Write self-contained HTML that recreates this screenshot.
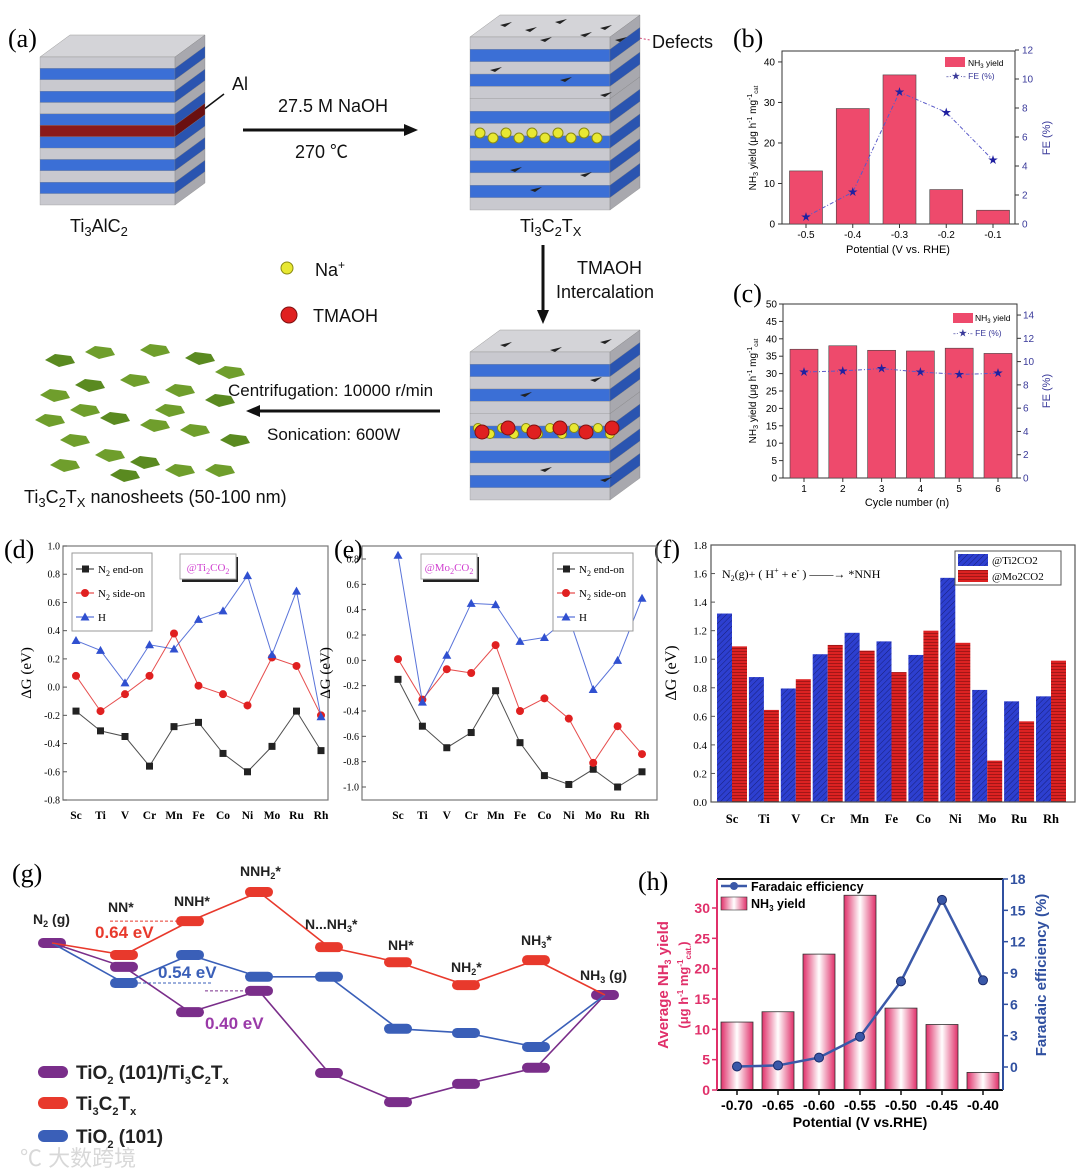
<!DOCTYPE html>
<html><head><meta charset="utf-8"><style>
html,body{margin:0;padding:0;background:#fff}
svg{display:block}
text{font-family:"Liberation Sans","Noto Sans CJK SC",sans-serif}
.serif{font-family:"Liberation Serif","Noto Serif CJK SC",serif}
</style></head><body>
<svg id="fig" width="1080" height="1174" viewBox="0 0 1080 1174" xmlns="http://www.w3.org/2000/svg">
<defs>
<pattern id="hatchBlue" width="4" height="4" patternUnits="userSpaceOnUse" patternTransform="rotate(45)"><rect width="4" height="4" fill="#2d3fd0"/><line x1="0" y1="0" x2="0" y2="4" stroke="#18207a" stroke-width="1"/></pattern>
<pattern id="hatchRed" width="4" height="3" patternUnits="userSpaceOnUse"><rect width="4" height="3" fill="#dc2222"/><line x1="0" y1="0" x2="4" y2="0" stroke="#6a0a0a" stroke-width="1"/></pattern>
<linearGradient id="pinkBar" x1="0" x2="1" y1="0" y2="0"><stop offset="0" stop-color="#e0306a"/><stop offset="0.5" stop-color="#fff"/><stop offset="1" stop-color="#e0306a"/></linearGradient>
</defs>
<!-- panel labels -->
<text class="serif" x="8" y="47" font-size="26">(a)</text>
<text class="serif" x="733" y="47" font-size="26">(b)</text>
<text class="serif" x="733" y="302" font-size="26">(c)</text>
<text class="serif" x="4" y="558" font-size="26">(d)</text>
<text class="serif" x="334" y="558" font-size="26">(e)</text>
<text class="serif" x="654" y="558" font-size="26">(f)</text>
<text class="serif" x="12" y="882" font-size="26">(g)</text>
<text class="serif" x="638" y="890" font-size="26">(h)</text>
<!-- schematic texts -->
<g font-size="18" fill="#111">
<text x="232" y="90">Al</text>
<line x1="203" y1="110" x2="224" y2="94" stroke="#111" stroke-width="1.5"/>
<text x="278" y="112">27.5 M NaOH</text>
<text x="295" y="158">270 ℃</text>
<line x1="243" y1="130" x2="408" y2="130" stroke="#111" stroke-width="3"/>
<polygon points="418,130 404,124 404,136" fill="#111"/>
<text x="70" y="232">Ti<tspan font-size="13" dy="4">3</tspan><tspan dy="-4">AlC</tspan><tspan font-size="13" dy="4">2</tspan></text>
<text x="652" y="48">Defects</text>
<ellipse cx="596" cy="40" rx="32" ry="20" fill="none" stroke="#d04070" stroke-width="1.3"/>
<line x1="628" y1="36" x2="650" y2="40" stroke="#d04070" stroke-dasharray="2,2"/>
<text x="520" y="232">Ti<tspan font-size="13" dy="4">3</tspan><tspan dy="-4">C</tspan><tspan font-size="13" dy="4">2</tspan><tspan dy="-4">T</tspan><tspan font-size="13" dy="4">X</tspan></text>
<circle cx="287" cy="268" r="6" fill="#e8e832" stroke="#8a8a10"/>
<text x="315" y="276">Na<tspan font-size="12" dy="-7">+</tspan></text>
<circle cx="289" cy="315" r="8" fill="#e02020" stroke="#801010"/>
<text x="313" y="322">TMAOH</text>
<line x1="543" y1="245" x2="543" y2="312" stroke="#111" stroke-width="3"/>
<polygon points="543,324 537,310 549,310" fill="#111"/>
<text x="577" y="274">TMAOH</text>
<text x="556" y="298">Intercalation</text>
<line x1="258" y1="411" x2="440" y2="411" stroke="#111" stroke-width="3"/>
<polygon points="246,411 260,405 260,417" fill="#111"/>
<text x="228" y="396" font-size="17">Centrifugation: 10000 r/min</text>
<text x="267" y="440" font-size="17">Sonication:  600W</text>
<text x="24" y="503">Ti<tspan font-size="13" dy="4">3</tspan><tspan dy="-4">C</tspan><tspan font-size="13" dy="4">2</tspan><tspan dy="-4">T</tspan><tspan font-size="13" dy="4">X</tspan><tspan dy="-4"> nanosheets (50-100 nm)</tspan></text>
</g>
<text x="20" y="1166" font-size="22" fill="#d8d8d8">℃ 大数跨境</text>
</svg>
<script>
// ===== chart data =====
const bCats=['-0.5','-0.4','-0.3','-0.2','-0.1'];
const bYield=[13.1,28.5,36.8,8.5,3.4];
const bFE=[0.5,2.2,9.1,7.7,4.4];
const bYTicks=[0,10,20,30,40];
const bFETicks=[0,2,4,6,8,10,12];
const cCats=['1','2','3','4','5','6'];
const cYield=[37.0,38.0,36.7,36.5,37.3,35.8];
const cFE=[9.1,9.2,9.4,9.1,8.9,9.0];
const cYTicks=[0,5,10,15,20,25,30,35,40,45,50];
const cFETicks=[0,2,4,6,8,10,12,14];
const metals=['Sc','Ti','V','Cr','Mn','Fe','Co','Ni','Mo','Ru','Rh'];
const dEnd=[-0.17,-0.31,-0.35,-0.56,-0.28,-0.25,-0.47,-0.60,-0.42,-0.17,-0.45];
const dSide=[0.08,-0.17,-0.05,0.08,0.38,0.01,-0.05,-0.13,0.21,0.15,-0.20];
const dH=[0.33,0.26,0.03,0.30,0.27,0.48,0.54,0.79,0.23,0.68,-0.21];
const dTicks=['-0.8','-0.6','-0.4','-0.2','0.0','0.2','0.4','0.6','0.8','1.0'];
const eEnd=[-0.15,-0.52,-0.69,-0.57,-0.24,-0.65,-0.91,-0.98,-0.86,-1.00,-0.88];
const eSide=[0.01,-0.31,-0.07,-0.10,0.12,-0.40,-0.30,-0.46,-0.81,-0.52,-0.74];
const eH=[0.83,-0.33,0.04,0.45,0.44,0.15,0.18,0.34,-0.23,0.00,0.49];
const eTicks=['-1.0','-0.8','-0.6','-0.4','-0.2','0.0','0.2','0.4','0.6','0.8'];
const fTi=[1.32,0.875,0.795,1.035,1.185,1.125,1.03,1.57,0.785,0.705,0.74];
const fMo=[1.09,0.645,0.86,1.10,1.06,0.91,1.20,1.115,0.29,0.565,0.99];
const fTicks=['0.0','0.2','0.4','0.6','0.8','1.0','1.2','1.4','1.6','1.8'];
const gSteps=['N2(g)','NN*','NNH*','NNH2*','N...NH3*','NH*','NH2*','NH3*','NH3(g)'];
const gRed=[0,-0.23,0.42,0.98,-0.08,-0.37,-0.81,-0.33,-1.0];
const gBlue=[0,-0.77,-0.23,-0.65,-0.65,-1.65,-1.73,-2.0,-1.0];
const gPurple=[0,-0.46,-1.33,-0.92,-2.5,-3.06,-2.71,-2.40,-1.0];
const hCats=['-0.70','-0.65','-0.60','-0.55','-0.50','-0.45','-0.40'];
const hYield=[11.2,12.9,22.4,32.1,13.5,10.8,2.9];
const hFE=[0.05,0.15,0.9,2.9,8.2,16.0,8.3];
const hYTicks=[0,5,10,15,20,25,30];
const hFETicks=[0,3,6,9,12,15,18];

const NS='http://www.w3.org/2000/svg';
const svg=document.getElementById('fig');
function mk(tag,attrs,name){
  const el=document.createElementNS(NS,tag);
  for(const k in attrs) el.setAttribute(k,attrs[k]);
  
  
  svg.appendChild(el);
  return el;
}
function txt(x,y,html,attrs,name){
  const el=mk('text',Object.assign({x:x,y:y},attrs),name);
  el.innerHTML=html;
  return el;
}
function lin(d0,d1,r0,r1){return v=>r0+(v-d0)/(d1-d0)*(r1-r0);}
function star(x,y,name){return txt(x,y+3.5,'★',{'font-size':10,fill:'#2020a0','text-anchor':'middle'},name);}

// ===== schematic =====
function stack(x,y,w,h,colors){
  const dx=30,dy=22,n=colors.length,t=(h-dy)/n;
  mk('polygon',{points:`${x},${y+dy} ${x+dx},${y} ${x+w+dx},${y} ${x+w},${y+dy}`,fill:'#d4d4d8',stroke:'#999','stroke-width':0.5},'stack-top-face');
  for(let i=0;i<n;i++){
    const ty=y+dy+i*t;const c=colors[i];
    const side=c==='#c9c9cf'?'#a8a8ae':(c==='#3b6fd6'?'#2a54b0':'#6a1010');
    mk('rect',{x:x,y:ty,width:w,height:t,fill:c,stroke:'#888','stroke-width':0.3},'stack-layer-front');
    mk('polygon',{points:`${x+w},${ty} ${x+w+dx},${ty-dy} ${x+w+dx},${ty-dy+t} ${x+w},${ty+t}`,fill:side,stroke:'#777','stroke-width':0.3},'stack-layer-side');
  }
}
const G='#c9c9cf',B='#3b6fd6',R='#8b1a1a';
stack(40,35,135,170,[G,B,G,B,G,B,R,B,G,B,G,B,G]);
stack(470,15,140,195,[G,B,G,B,G,G,B,G,B,G,B,G,B,G]);
stack(470,330,140,170,[G,B,G,B,G,G,B,G,B,G,B,G]);
// defect flakes
const flakes=[[500,25],[525,30],[555,22],[580,35],[600,28],[540,40],[615,40],[490,70],[560,80],[600,95],[510,170],[580,175],[530,190],[500,345],[550,350],[600,342],[520,395],[590,380],[540,470],[600,480]];
flakes.forEach(p=>{mk('polygon',{points:`${p[0]},${p[1]} ${p[0]+12},${p[1]-3} ${p[0]+5},${p[1]+2}`,fill:'#222'},'defect-flake');});
for(let i=0;i<10;i++){mk('circle',{cx:480+i*13,cy:133+(i%2)*5,r:5,fill:'#e8e832',stroke:'#8a8a10'},'na-ion');}
for(let i=0;i<12;i++){mk('circle',{cx:478+i*12,cy:428+(i%2)*6,r:4.5,fill:'#e8e832',stroke:'#8a8a10'},'na-ion');}
for(let i=0;i<6;i++){mk('circle',{cx:482+i*26,cy:432-(i%2)*4,r:7,fill:'#e02020',stroke:'#801010'},'tmaoh-ion');}
const sheets=[[45,360],[85,352],[140,350],[185,358],[215,372],[40,395],[75,385],[120,380],[165,390],[205,400],[35,420],[60,440],[100,418],[140,425],[180,430],[220,440],[50,465],[95,455],[130,462],[165,470],[205,470],[110,475],[70,410],[155,410]];
sheets.forEach((p,i)=>{mk('polygon',{points:`${p[0]},${p[1]} ${p[0]+10},${p[1]-6} ${p[0]+26},${p[1]-4} ${p[0]+30},${p[1]+3} ${p[0]+14},${p[1]+7}`,fill:i%3?'#6f9e2c':'#5a8a20'},'nanosheet');});

// ===== panel b =====
{const x=i=>806+i*46.75,y=lin(0,42.7,224,51),yr=lin(0,12,224,50);
 mk('rect',{x:782,y:51,width:233,height:173,fill:'none',stroke:'#333'},'b-plot-frame');
 bYield.forEach((v,i)=>{mk('rect',{x:x(i)-16.5,y:y(v),width:33,height:224-y(v),fill:'#ee4a6c',stroke:'#444','stroke-width':0.6},'b-yield-bar');});
 mk('polyline',{points:bFE.map((v,i)=>`${x(i)},${yr(v)}`).join(' '),fill:'none',stroke:'#5a5ac8','stroke-dasharray':'4,2,1,2'},'b-fe-line');
 bFE.forEach((v,i)=>{star(x(i),yr(v),'b-fe-marker');});
 bYTicks.forEach(v=>{mk('line',{x1:778,y1:y(v),x2:782,y2:y(v),stroke:'#333'},'b-left-tick');txt(775,y(v)+3.5,v,{'font-size':10,'text-anchor':'end'},'b-left-tick-label');});
 bFETicks.forEach(v=>{mk('line',{x1:1015,y1:yr(v),x2:1019,y2:yr(v),stroke:'#333'},'b-right-tick');txt(1022,yr(v)+3.5,v,{'font-size':10,fill:'#3a3a9a'},'b-right-tick-label');});
 bCats.forEach((c,i)=>{mk('line',{x1:x(i),y1:224,x2:x(i),y2:228,stroke:'#333'},'b-x-tick');txt(x(i),238,c,{'font-size':10,'text-anchor':'middle'},'b-x-tick-label');});
 txt(898,253,'Potential (V vs. RHE)',{'font-size':11,'text-anchor':'middle'},'b-x-axis-title');
 txt(0,0,'NH<tspan font-size="7" dy="2">3</tspan><tspan dy="-2"> yield (μg h</tspan><tspan font-size="7" dy="-4">-1</tspan><tspan dy="4"> mg</tspan><tspan font-size="7" dy="-4">-1</tspan><tspan font-size="6" dy="6">cat</tspan>',{'font-size':10,'text-anchor':'middle',transform:'translate(756,138) rotate(-90)'},'b-left-axis-title');
 txt(0,0,'FE (%)',{'font-size':11,fill:'#3a3a9a','text-anchor':'middle',transform:'translate(1050,138) rotate(-90)'},'b-right-axis-title');
 mk('rect',{x:945,y:57,width:20,height:10,fill:'#ee4a6c'},'b-legend-yield-swatch');
 txt(968,66,'NH<tspan font-size="6" dy="2">3</tspan><tspan dy="-2"> yield</tspan>',{'font-size':8.5},'b-legend-yield-label');
 txt(946,79,'-·★·- FE (%)',{'font-size':8.5,fill:'#3a3a9a'},'b-legend-fe-label');}

// ===== panel c =====
{const x=i=>804+i*38.8,y=lin(0,50,478,304),yr=lin(0,15,478,303.4);
 mk('rect',{x:783,y:304,width:234,height:174,fill:'none',stroke:'#333'},'c-plot-frame');
 cYield.forEach((v,i)=>{mk('rect',{x:x(i)-14,y:y(v),width:28,height:478-y(v),fill:'#ee4a6c',stroke:'#444','stroke-width':0.6},'c-yield-bar');});
 mk('polyline',{points:cFE.map((v,i)=>`${x(i)},${yr(v)}`).join(' '),fill:'none',stroke:'#5a5ac8','stroke-dasharray':'4,2,1,2'},'c-fe-line');
 cFE.forEach((v,i)=>{star(x(i),yr(v),'c-fe-marker');});
 cYTicks.forEach(v=>{mk('line',{x1:779,y1:y(v),x2:783,y2:y(v),stroke:'#333'},'c-left-tick');txt(777,y(v)+3.5,v,{'font-size':10,'text-anchor':'end'},'c-left-tick-label');});
 cFETicks.forEach(v=>{mk('line',{x1:1017,y1:yr(v),x2:1021,y2:yr(v),stroke:'#333'},'c-right-tick');txt(1023,yr(v)+3.5,v,{'font-size':10,fill:'#3a3a9a'},'c-right-tick-label');});
 cCats.forEach((c,i)=>{mk('line',{x1:x(i),y1:478,x2:x(i),y2:482,stroke:'#333'},'c-x-tick');txt(x(i),492,c,{'font-size':10,'text-anchor':'middle'},'c-x-tick-label');});
 txt(907,506,'Cycle number (n)',{'font-size':11,'text-anchor':'middle'},'c-x-axis-title');
 txt(0,0,'NH<tspan font-size="7" dy="2">3</tspan><tspan dy="-2"> yield (μg h</tspan><tspan font-size="7" dy="-4">-1</tspan><tspan dy="4"> mg</tspan><tspan font-size="7" dy="-4">-1</tspan><tspan font-size="6" dy="6">cat</tspan>',{'font-size':10,'text-anchor':'middle',transform:'translate(756,391) rotate(-90)'},'c-left-axis-title');
 txt(0,0,'FE (%)',{'font-size':11,fill:'#3a3a9a','text-anchor':'middle',transform:'translate(1050,391) rotate(-90)'},'c-right-axis-title');
 mk('rect',{x:953,y:313,width:20,height:10,fill:'#ee4a6c'},'c-legend-yield-swatch');
 txt(975,321,'NH<tspan font-size="6" dy="2">3</tspan><tspan dy="-2"> yield</tspan>',{'font-size':8.5},'c-legend-yield-label');
 txt(953,336,'-·★·- FE (%)',{'font-size':8.5,fill:'#3a3a9a'},'c-legend-fe-label');}

// ===== panels d / e =====
function dgPanel(p,L,R,T,Bt,ticks,tv0,ty0,tv1,ty1,x0,step,ends,sides,hs,legX,insX,insTxt){
  const y=lin(tv0,tv1,ty0,ty1),x=i=>x0+i*step;
  mk('rect',{x:L,y:T,width:R-L,height:Bt-T,fill:'none',stroke:'#777','stroke-width':1.2},p+'-plot-frame');
  ticks.forEach(t=>{const v=parseFloat(t);mk('line',{x1:L,y1:y(v),x2:L+4,y2:y(v),stroke:'#555'},p+'-y-tick');txt(L-3,y(v)+3.5,t,{'font-size':10,'text-anchor':'end',class:'serif'},p+'-y-tick-label');});
  metals.forEach((m,i)=>{txt(x(i),Bt+19,m,{'font-size':11.5,'font-weight':'bold','text-anchor':'middle',class:'serif'},p+'-x-tick-label');});
  const series=[[ends,'#222','sq'],[sides,'#e02020','ci'],[hs,'#3050d0','tr']];
  series.forEach(s=>{
    mk('polyline',{points:s[0].map((v,i)=>`${x(i)},${y(v)}`).join(' '),fill:'none',stroke:s[1],'stroke-width':1,opacity:0.8},p+'-series-line');
    s[0].forEach((v,i)=>{const cx=x(i),cy=y(v);
      if(s[2]==='sq'){mk('rect',{x:cx-3.5,y:cy-3.5,width:7,height:7,fill:s[1]},p+'-end-on-marker');}
      else if(s[2]==='ci'){mk('circle',{cx:cx,cy:cy,r:4,fill:s[1]},p+'-side-on-marker');}
      else {mk('polygon',{points:`${cx},${cy-4.5} ${cx+4.5},${cy+3.5} ${cx-4.5},${cy+3.5}`,fill:s[1]},p+'-h-marker');}
    });
  });
  txt(0,0,'ΔG (eV)',{'font-size':15,'text-anchor':'middle',class:'serif',transform:`translate(${L-32},${(T+Bt)/2}) rotate(-90)`},p+'-y-axis-title');
  mk('rect',{x:legX,y:T+7,width:80,height:78,fill:'#fff',stroke:'#999'},p+'-legend-box');
  const lab=['N<tspan font-size="8" dy="3">2</tspan><tspan dy="-3"> end-on</tspan>','N<tspan font-size="8" dy="3">2</tspan><tspan dy="-3"> side-on</tspan>','H'];
  series.forEach((s,k)=>{const ly=T+23+k*24;
    mk('line',{x1:legX+4,y1:ly,x2:legX+22,y2:ly,stroke:s[1]},p+'-legend-line');
    if(k===0)mk('rect',{x:legX+10,y:ly-3.5,width:7,height:7,fill:s[1]},p+'-legend-marker');
    else if(k===1)mk('circle',{cx:legX+13,cy:ly,r:4,fill:s[1]},p+'-legend-marker');
    else mk('polygon',{points:`${legX+13},${ly-4.5} ${legX+17.5},${ly+3.5} ${legX+8.5},${ly+3.5}`,fill:s[1]},p+'-legend-marker');
    txt(legX+26,ly+4,lab[k],{'font-size':11,class:'serif'},p+'-legend-label');});
  mk('rect',{x:insX+2,y:T+11,width:56,height:25,fill:'#222'},p+'-inset-shadow');
  mk('rect',{x:insX,y:T+8,width:56,height:25,fill:'#fff',stroke:'#aaa'},p+'-inset-box');
  txt(insX+28,T+25,insTxt,{'font-size':11,fill:'#d040d0','text-anchor':'middle',class:'serif'},p+'-inset-label');
}
dgPanel('d',63,328,546,800,dTicks,-0.8,800,1.0,546,76,24.5,dEnd,dSide,dH,72,180,'@Ti<tspan font-size="8" dy="3">2</tspan><tspan dy="-3">CO</tspan><tspan font-size="8" dy="3">2</tspan>');
dgPanel('e',362,657,546,800,eTicks,-1.0,787,0.8,559,398,24.4,eEnd,eSide,eH,553,421,'@Mo<tspan font-size="8" dy="3">2</tspan><tspan dy="-3">CO</tspan><tspan font-size="8" dy="3">2</tspan>');

// ===== panel f =====
{const y=lin(0,1.8,802,545),x=i=>732+i*31.9;
 fTi.forEach((v,i)=>{mk('rect',{x:x(i)-15,y:y(v),width:15,height:802-y(v),fill:'url(#hatchBlue)'},'f-ti2co2-bar');});
 fMo.forEach((v,i)=>{mk('rect',{x:x(i),y:y(v),width:15,height:802-y(v),fill:'url(#hatchRed)'},'f-mo2co2-bar');});
 mk('rect',{x:711,y:545,width:364,height:257,fill:'none',stroke:'#555','stroke-width':1.2},'f-plot-frame');
 fTicks.forEach(t=>{const v=parseFloat(t);mk('line',{x1:711,y1:y(v),x2:715,y2:y(v),stroke:'#555'},'f-y-tick');txt(707,y(v)+4,t,{'font-size':11,'text-anchor':'end',class:'serif'},'f-y-tick-label');});
 metals.forEach((m,i)=>{txt(x(i),823,m,{'font-size':12.5,'font-weight':'bold','text-anchor':'middle',class:'serif'},'f-x-tick-label');});
 txt(0,0,'ΔG (eV)',{'font-size':16,'text-anchor':'middle',class:'serif',transform:'translate(676,673) rotate(-90)'},'f-y-axis-title');
 txt(722,578,'N<tspan font-size="8" dy="3">2</tspan><tspan dy="-3">(g)+ ( H</tspan><tspan font-size="8" dy="-5">+</tspan><tspan dy="5"> + e</tspan><tspan font-size="8" dy="-5">-</tspan><tspan dy="5"> ) ——→ *NNH</tspan>',{'font-size':12,class:'serif'},'f-reaction-equation');
 mk('rect',{x:955,y:551,width:106,height:34,fill:'#fff',stroke:'#555'},'f-legend-box');
 mk('rect',{x:958,y:554,width:30,height:12,fill:'url(#hatchBlue)'},'f-legend-ti-swatch');
 mk('rect',{x:958,y:570,width:30,height:12,fill:'url(#hatchRed)'},'f-legend-mo-swatch');
 txt(992,564,'@Ti2CO2',{'font-size':11,class:'serif'},'f-legend-ti-label');
 txt(992,580,'@Mo2CO2',{'font-size':11,class:'serif'},'f-legend-mo-label');}

// ===== panel g =====
{const gx=[52,124,190,259,329,398,466,536,605],gy=e=>943-e*52;
 const cols={red:'#e8392c',blue:'#3a5fb8',purple:'#7a2e8a'};
 [[gPurple,cols.purple,'g-purple'],[gBlue,cols.blue,'g-blue'],[gRed,cols.red,'g-red']].forEach(s=>{
   mk('polyline',{points:s[0].map((v,i)=>`${gx[i]},${gy(v)}`).join(' '),fill:'none',stroke:s[1],'stroke-width':1.6},s[2]+'-path');
   s[0].forEach((v,i)=>{if((i===0||i===8)&&s[2]!=='g-purple')return;mk('rect',{x:gx[i]-14,y:gy(v)-5,width:28,height:10,rx:5,fill:i===0||i===8?cols.purple:s[1]},s[2]+'-level');});
 });
 mk('line',{x1:110,y1:gy(gRed[2]),x2:178,y2:gy(gRed[2]),stroke:cols.red,'stroke-dasharray':'3,2'},'g-red-gap-line');
 mk('line',{x1:138,y1:gy(gBlue[1]),x2:213,y2:gy(gBlue[1]),stroke:cols.blue,'stroke-dasharray':'3,2'},'g-blue-gap-line');
 mk('line',{x1:205,y1:gy(gPurple[3]),x2:272,y2:gy(gPurple[3]),stroke:cols.purple,'stroke-dasharray':'3,2'},'g-purple-gap-line');
 txt(95,938,'0.64 eV',{'font-size':17,'font-weight':'bold',fill:cols.red},'g-red-barrier-label');
 txt(158,978,'0.54 eV',{'font-size':17,'font-weight':'bold',fill:cols.blue},'g-blue-barrier-label');
 txt(205,1029,'0.40 eV',{'font-size':17,'font-weight':'bold',fill:'#9a3aa8'},'g-purple-barrier-label');
 const lbl=[[33,924,'N<tspan font-size="9" dy="3">2</tspan><tspan dy="-3"> (g)</tspan>'],[108,912,'NN*'],[174,906,'NNH*'],[240,876,'NNH<tspan font-size="9" dy="3">2</tspan><tspan dy="-3">*</tspan>'],[305,929,'N...NH<tspan font-size="9" dy="3">3</tspan><tspan dy="-3">*</tspan>'],[388,950,'NH*'],[451,972,'NH<tspan font-size="9" dy="3">2</tspan><tspan dy="-3">*</tspan>'],[521,945,'NH<tspan font-size="9" dy="3">3</tspan><tspan dy="-3">*</tspan>'],[580,980,'NH<tspan font-size="9" dy="3">3</tspan><tspan dy="-3"> (g)</tspan>']];
 lbl.forEach(l=>{txt(l[0],l[1],l[2],{'font-size':14,'font-weight':'bold',fill:'#222'},'g-step-label');});
 const leg=[[1072,cols.purple,'TiO<tspan font-size="11" dy="5">2</tspan><tspan dy="-5"> (101)/Ti</tspan><tspan font-size="11" dy="5">3</tspan><tspan dy="-5">C</tspan><tspan font-size="11" dy="5">2</tspan><tspan dy="-5">T</tspan><tspan font-size="11" dy="5">x</tspan>'],[1103,cols.red,'Ti<tspan font-size="11" dy="5">3</tspan><tspan dy="-5">C</tspan><tspan font-size="11" dy="5">2</tspan><tspan dy="-5">T</tspan><tspan font-size="11" dy="5">x</tspan>'],[1136,cols.blue,'TiO<tspan font-size="11" dy="5">2</tspan><tspan dy="-5"> (101)</tspan>']];
 leg.forEach(l=>{mk('rect',{x:38,y:l[0]-6,width:30,height:12,rx:6,fill:l[1]},'g-legend-swatch');txt(76,l[0]+7,l[2],{'font-size':19,'font-weight':'bold',fill:'#222'},'g-legend-label');});}

// ===== panel h =====
{const x=i=>737+i*41,y=lin(0,30,1090,908),yr=lin(0,18,1067,879);
 hYield.forEach((v,i)=>{mk('rect',{x:x(i)-16,y:y(v),width:32,height:1090-y(v),fill:'url(#pinkBar)',stroke:'#333','stroke-width':0.8},'h-yield-bar');});
 mk('line',{x1:717,y1:879,x2:1003,y2:879,stroke:'#111','stroke-width':2},'h-top-axis');
 mk('line',{x1:717,y1:1090,x2:1003,y2:1090,stroke:'#111','stroke-width':2},'h-x-axis');
 mk('line',{x1:717,y1:879,x2:717,y2:1090,stroke:'#e0306a','stroke-width':2},'h-left-axis');
 mk('line',{x1:1003,y1:879,x2:1003,y2:1090,stroke:'#3050a0','stroke-width':2},'h-right-axis');
 mk('polyline',{points:hFE.map((v,i)=>`${x(i)},${yr(v)}`).join(' '),fill:'none',stroke:'#3a58a8','stroke-width':2.5},'h-fe-line');
 hFE.forEach((v,i)=>{mk('circle',{cx:x(i),cy:yr(v),r:4.5,fill:'#3a58a8',stroke:'#1a2a6a'},'h-fe-marker');});
 hYTicks.forEach(v=>{mk('line',{x1:712,y1:y(v),x2:717,y2:y(v),stroke:'#e0306a','stroke-width':1.5},'h-left-tick');txt(710,y(v)+5,v,{'font-size':14,'font-weight':'bold',fill:'#e0306a','text-anchor':'end'},'h-left-tick-label');});
 hFETicks.forEach(v=>{mk('line',{x1:1003,y1:yr(v),x2:1008,y2:yr(v),stroke:'#3050a0','stroke-width':1.5},'h-right-tick');txt(1010,yr(v)+5,v,{'font-size':14,'font-weight':'bold',fill:'#3050a0'},'h-right-tick-label');});
 hCats.forEach((c,i)=>{mk('line',{x1:x(i),y1:1090,x2:x(i),y2:1095,stroke:'#111','stroke-width':1.5},'h-x-tick');txt(x(i),1110,c,{'font-size':14,'font-weight':'bold','text-anchor':'middle'},'h-x-tick-label');});
 txt(860,1127,'Potential (V vs.RHE)',{'font-size':14,'font-weight':'bold','text-anchor':'middle'},'h-x-axis-title');
 txt(0,0,'Average NH<tspan font-size="9" dy="3">3</tspan><tspan dy="-3"> yield</tspan>',{'font-size':15,'font-weight':'bold',fill:'#e0306a','text-anchor':'middle',transform:'translate(668,985) rotate(-90)'},'h-left-axis-title');
 txt(0,0,'(μg h<tspan font-size="8" dy="-5">-1</tspan><tspan dy="5"> mg</tspan><tspan font-size="8" dy="-5">-1</tspan><tspan font-size="8" dy="8">cat.</tspan><tspan dy="-3">)</tspan>',{'font-size':13,'font-weight':'bold',fill:'#e0306a','text-anchor':'middle',transform:'translate(688,985) rotate(-90)'},'h-left-axis-subtitle');
 txt(0,0,'Faradaic efficiency (%)',{'font-size':15,'font-weight':'bold',fill:'#3050a0','text-anchor':'middle',transform:'translate(1046,975) rotate(-90)'},'h-right-axis-title');
 mk('line',{x1:721,y1:886,x2:747,y2:886,stroke:'#3a58a8','stroke-width':2.5},'h-legend-fe-line');
 mk('circle',{cx:734,cy:886,r:4,fill:'#3a58a8'},'h-legend-fe-marker');
 txt(751,891,'Faradaic efficiency',{'font-size':12.5,'font-weight':'bold'},'h-legend-fe-label');
 mk('rect',{x:721,y:897,width:26,height:13,fill:'url(#pinkBar)',stroke:'#333','stroke-width':0.6},'h-legend-yield-swatch');
 txt(751,908,'NH<tspan font-size="8" dy="3">3</tspan><tspan dy="-3"> yield</tspan>',{'font-size':12.5,'font-weight':'bold'},'h-legend-yield-label');}
</script>
</body></html>
